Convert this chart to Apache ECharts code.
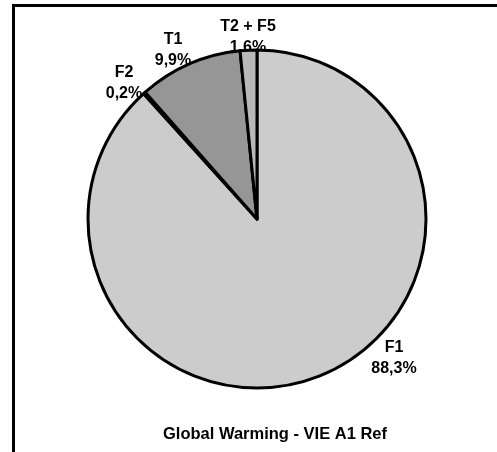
<!DOCTYPE html>
<html>
<head>
<meta charset="utf-8">
<script src="https://cdn.jsdelivr.net/npm/echarts@6/dist/echarts.min.js"></script>
<style>
  html, body { margin: 0; padding: 0; background: #fff; }
  #chart { width: 497px; height: 452px; }
</style>
</head>
<body>
<div id="chart"></div>
<script>
// Share of each contribution, in percent (clockwise from 12 o'clock)
const categories = ['F1', 'F2', 'T1', 'T2 + F5'];
const shares = [88.3, 0.2, 9.9, 1.6];
const sliceColors = ['#cccccc', '#000000', '#969696', '#b8b8b8'];
const chartTitle = 'Global Warming - VIE A1 Ref';

// Where each two-line label block sits (centre of the block)
const labelSpots = [[394, 358], [124, 83], [173, 50], [248, 37]];

const chart = echarts.init(document.getElementById('chart'), null, { renderer: 'canvas' });

const fmt = v => String(v).replace('.', ',') + '%';
const labelFont = 'bold 16px "Liberation Sans", Arial, sans-serif';

// Name / share labels beside each slice, kept underneath the pie outline
const sliceLabels = categories.map((name, i) => ({
  type: 'text',
  x: labelSpots[i][0],
  y: labelSpots[i][1],
  z: 0,
  silent: true,
  style: {
    text: name + '\n' + fmt(shares[i]),
    font: labelFont,
    lineHeight: 21,
    fill: '#000',
    align: 'center',
    verticalAlign: 'middle'
  }
}));

chart.setOption({
  backgroundColor: '#ffffff',
  animation: false,
  title: {
    text: chartTitle,
    left: 270,
    top: 421,
    textAlign: 'center',
    textStyle: {
      fontFamily: 'Liberation Sans, Arial, sans-serif',
      fontWeight: 'bold',
      fontSize: 16.5,
      color: '#000'
    }
  },
  graphic: [{
    type: 'rect',
    shape: { x: 13.5, y: 5.5, width: 600, height: 600 },
    style: { fill: 'none', stroke: '#000', lineWidth: 3 },
    silent: true
  }].concat(sliceLabels),
  series: [{
    type: 'pie',
    z: 5,
    center: [257, 219],
    radius: 169,
    startAngle: 90,
    clockwise: true,
    avoidLabelOverlap: false,
    data: categories.map((name, i) => ({
      name,
      value: shares[i],
      itemStyle: { color: sliceColors[i] }
    })),
    itemStyle: { borderColor: '#000', borderWidth: 3 },
    label: { show: false },
    labelLine: { show: false },
    emphasis: { disabled: true }
  }]
});
</script>
</body>
</html>
